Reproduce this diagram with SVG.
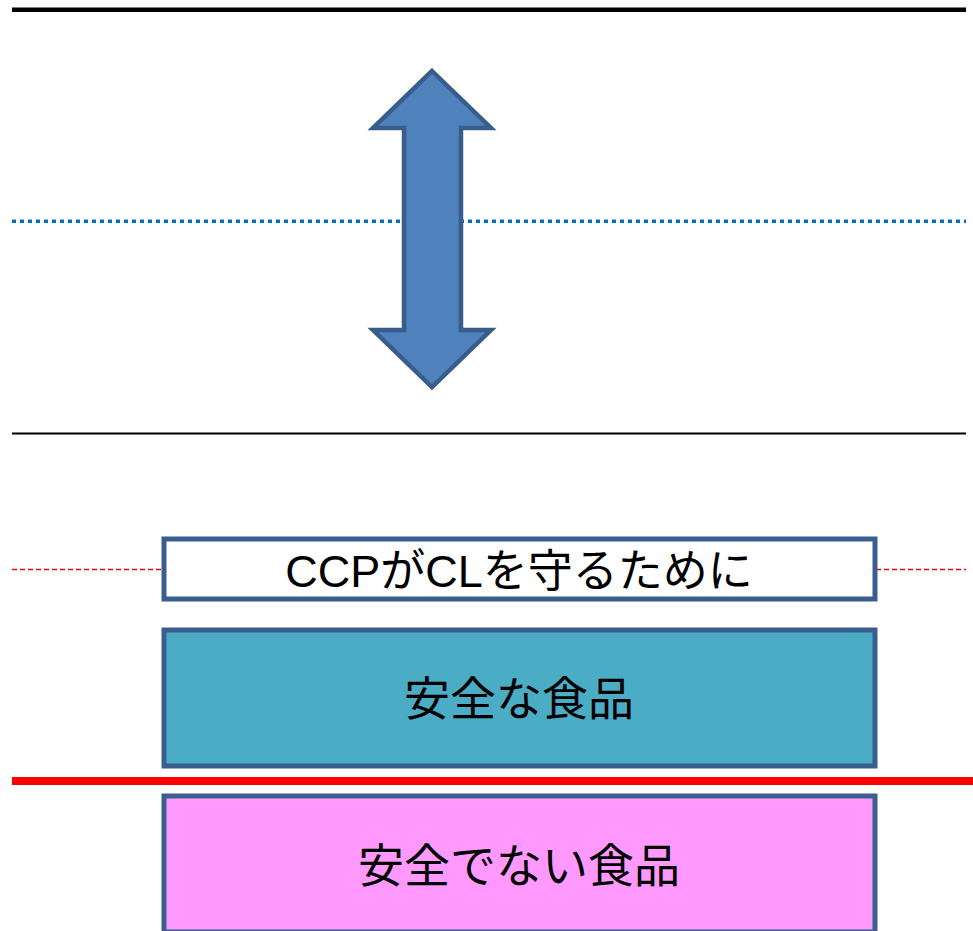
<svg xmlns="http://www.w3.org/2000/svg" width="973" height="931" viewBox="0 0 973 931">
<style>
.box{stroke:#3A5F8F;stroke-width:5}
.lbl{font-family:"Liberation Sans","Noto Sans CJK JP",sans-serif;font-size:46px;fill:#000;text-anchor:middle;dominant-baseline:central}
</style>
<rect width="973" height="931" fill="#fff"/>
<g id="connectors">
<line x1="12" y1="9.7" x2="966" y2="9.7" stroke="#000" stroke-width="4.5"/>
<line x1="12" y1="221.3" x2="966" y2="221.3" stroke="#0070C0" stroke-width="3.5" stroke-dasharray="4 4"/>
<line x1="12" y1="433.5" x2="966" y2="433.5" stroke="#000" stroke-width="2"/>
<line x1="12" y1="569.5" x2="966" y2="569.5" stroke="#FF0000" stroke-width="1.5" stroke-dasharray="5 3"/>
<line x1="12" y1="781" x2="973" y2="781" stroke="#FF0000" stroke-width="8"/>
</g>
<g id="arrow">
<polygon points="432,71 491,128 461,128 461,330 491,330 432,387 373,330 404,330 404,128 373,128" fill="#4F81BD" stroke="#385D8A" stroke-width="4.5" stroke-linejoin="miter"/>
</g>
<g id="ccp">
<rect class="box" x="164" y="539" width="711" height="60" fill="#fff"/>
<text class="lbl" x="519" y="571" style="font-size:45px">CCPがCLを守るために</text>
</g>
<g id="safe">
<rect class="box" x="164" y="630" width="711" height="136" fill="#4BACC6"/>
<text class="lbl" x="519" y="699">安全な食品</text>
</g>
<g id="unsafe">
<rect class="box" x="164" y="796" width="711" height="136" fill="#FF99FF"/>
<text class="lbl" x="519" y="866">安全でない食品</text>
</g>
</svg>
